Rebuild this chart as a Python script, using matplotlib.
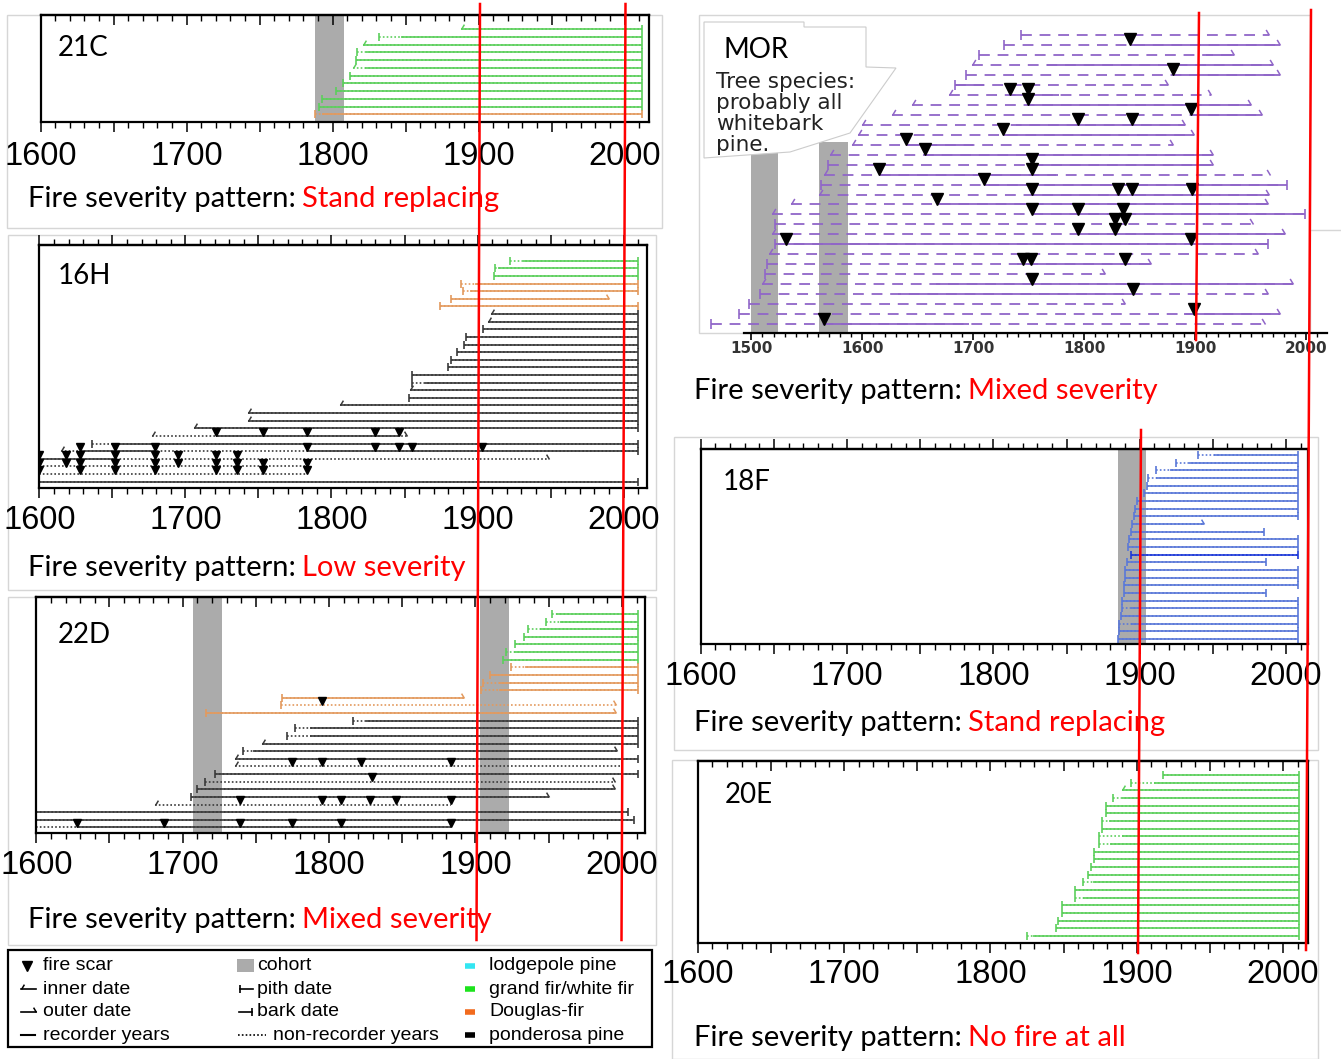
import matplotlib
matplotlib.use("Agg")
import matplotlib.pyplot as plt
from matplotlib.path import Path
from matplotlib.patches import Rectangle, Polygon
from matplotlib.ticker import MultipleLocator, FixedLocator, FuncFormatter, NullFormatter
from matplotlib.transforms import offset_copy

# ---------------------------------------------------------------- data
# rows are listed top to bottom; years of first ring, last ring,
# recorder (solid) spans, species code, start kind (p=pith, i=inner, n=none)
# and end kind (b=bark, o=outer, n=none); scars keyed by row index

C21_BEGIN = [1888, 1832, 1821, 1817, 1816, 1814, 1812, 1807, 1802, 1793, 1791, 1788]
C21_RECORD = [1888, 1847, 1821, 1823, 1816, 1822, 1812, 1807, 1802, 1793, 1791, 1793]
C21_END = [2012, 2012, 2012, 2012, 2012, 2012, 2012, 2012, 2012, 2012, 2012, 2012]
C21_SPECIES = "gggggggggggd"
C21_START = "ipippipppppp"
C21_STOP = "bbbbbbbbbbbb"
C21_COHORT = [(1788, 1808)]

H16_BEGIN = [1922, 1912, 1911, 1889, 1890, 1882, 1874, 1909, 1907, 1904, 1892, 1891,
             1886, 1882, 1880, 1855, 1855, 1854, 1853, 1806, 1743, 1743, 1706, 1677,
             1636, 1615, 1600, 1600, 1600, 1600]
H16_END = [2010, 2010, 2010, 2010, 2010, 1990, 2010, 2010, 2010, 2010, 2010, 2010,
           2010, 2010, 2010, 2010, 2010, 2010, 2010, 2010, 2010, 2010, 2010, 1852,
           2010, 2010, 1949, 1783, 1783, 2010]
H16_RECORD = [[(1931, 2010)], [(1914, 2010)], [(1911, 2010)], [(1898, 2010)],
              [(1895, 2010)], [(1882, 1990)], [(1874, 2010)], [(1909, 2010)],
              [(1907, 2010)], [(1904, 2010)], [(1892, 2010)], [(1891, 2010)],
              [(1886, 2010)], [(1882, 2010)], [(1880, 2010)], [(1855, 2010)],
              [(1864, 2010)], [(1854, 2010)], [(1853, 2010)], [(1806, 2010)],
              [(1743, 2010)], [(1743, 2010)], [(1706, 2010)], [(1721, 1846)],
              [(1650, 2010)], [(1628, 1679), (1783, 2010)], [(1600, 1652)], [], [],
              [(1600, 2010)]]
H16_SPECIES = "gggddddppppppppppppppppppppppp"
H16_START = "pppppppiippppppppipiiiiipinnnn"
H16_STOP = "bbbbbobbbbbbbbbbbbbbbbbobbonnb"
H16_SCARS = {
    23: [1721, 1753, 1783, 1830, 1846],
    25: [1628, 1652, 1679, 1783, 1830, 1846, 1855, 1903],
    26: [1600, 1618, 1628, 1652, 1679, 1695, 1721, 1735],
    27: [1600, 1618, 1628, 1652, 1679, 1695, 1721, 1735, 1753, 1783],
    28: [1600, 1628, 1652, 1679, 1721, 1735, 1753, 1783],
}

D22_BEGIN = [1952, 1948, 1936, 1933, 1927, 1921, 1919, 1924, 1910, 1905, 1904, 1768,
             1767, 1716, 1816, 1777, 1771, 1754, 1741, 1736, 1736, 1722, 1715, 1710,
             1706, 1681, 1600, 1600, 1600]
D22_END = [2011, 2011, 2011, 2011, 2011, 2011, 2011, 2011, 2011, 2011, 2011, 1892,
           1996, 1996, 2011, 2011, 2011, 2011, 1997, 2011, 1999, 2011, 1995, 1995,
           1950, 1883, 2004, 2008, 1883]
D22_RECORD = [[(1955, 2011)], [(1958, 2011)], [(1944, 2011)], [(1933, 2011)],
              [(1927, 2011)], [(1926, 2011)], [(1919, 2011)], [(1934, 2011)],
              [(1910, 2011)], [(1916, 2011)], [(1916, 2011)], [(1768, 1892)], [],
              [(1716, 1996)], [(1825, 2011)], [(1787, 2011)], [(1787, 2011)],
              [(1754, 2011)], [(1748, 1997)], [(1736, 2011)], [], [(1722, 2011)], [],
              [(1710, 1995)], [(1706, 1950)], [], [(1600, 2004)], [(1600, 2008)],
              [(1628, 1883)]]
D22_SPECIES = "gggggggdddddddppppppppppppppp"
D22_START = "pppppppppppppppppipiippppinnn"
D22_STOP = "bbbbbbbbbbbooobbbbobnbooonbbn"
D22_SCARS = {
    12: [1795],
    20: [1775, 1795, 1822, 1883],
    22: [1829],
    25: [1739, 1795, 1808, 1828, 1846, 1883],
    28: [1628, 1687, 1739, 1775, 1808, 1883],
}
D22_COHORT = [(1707, 1727), (1903, 1923)]

F18_BEGIN = [1940, 1925, 1911, 1906, 1905, 1903, 1898, 1897, 1896, 1895, 1894, 1893,
             1892, 1894, 1891, 1890, 1890, 1889, 1889, 1888, 1888, 1887, 1886, 1886, 1885]
F18_RECORD = [1951, 1934, 1921, 1911, 1905, 1903, 1898, 1897, 1896, 1895, 1894, 1893,
              1892, 1894, 1891, 1890, 1890, 1889, 1889, 1888, 1894, 1887, 1894, 1886, 1885]
F18_END = [2008, 2008, 2008, 2008, 2008, 2008, 2008, 2008, 2008, 1944, 1985, 2008,
           2008, 2008, 1986, 2008, 2008, 2008, 1986, 2008, 2008, 2008, 2008, 2008, 2008]
F18_SPECIES = "bbbbbbbbbbbbbBbbbbbbbbbbb"
F18_START = "ppppppppppppppppppppppppp"
F18_STOP = "bbbbbbbbbobbbbbbbbbbbbbbb"
F18_COHORT = [(1885, 1904)]

E20_BEGIN = [1918, 1896, 1890, 1884, 1879, 1879, 1876, 1876, 1874, 1874, 1871, 1871,
             1869, 1867, 1863, 1858, 1858, 1849, 1849, 1846, 1845, 1825]
E20_RECORD = [1918, 1912, 1890, 1890, 1879, 1879, 1881, 1876, 1890, 1882, 1871, 1871,
              1869, 1867, 1870, 1858, 1863, 1849, 1849, 1846, 1845, 1829]
E20_END = [2011, 2011, 2011, 2011, 2011, 2011, 2011, 2011, 2011, 2011, 2011, 2011,
           2011, 2011, 2011, 2011, 2011, 2011, 2011, 2011, 2011, 2011]
E20_SPECIES = "gggggggggggggggggggggg"
E20_START = "ppippppppppppppppppppp"
E20_STOP = "bbbbbbbbbbbbbbbbbbbbbb"

MOR_BEGIN = [1743, 1728, 1705, 1699, 1693, 1683, 1678, 1645, 1627, 1600, 1596, 1591,
             1571, 1569, 1565, 1563, 1561, 1536, 1519, 1521, 1519, 1521, 1516, 1514,
             1512, 1510, 1508, 1498, 1489, 1464]
MOR_END = [1966, 1976, 1935, 1970, 1976, 1875, 1914, 1950, 1960, 1891, 1899, 1880,
           1916, 1916, 1967, 1983, 1966, 1965, 1999, 1952, 1981, 1965, 1956, 1860,
           1819, 1988, 1965, 1837, 1976, 1963]
MOR_RECORD = [[], [(1841, 1976)], [(1910, 1935)], [(1766, 1970)], [(1880, 1976)],
              [(1683, 1710)], [(1733, 1777)], [(1749, 1950)], [(1896, 1960)],
              [(1738, 1891)], [(1727, 1899)], [(1639, 1700)], [(1656, 1916)],
              [(1753, 1916)], [(1615, 1774)], [(1710, 1983)], [(1753, 1966)],
              [(1667, 1965)], [(1753, 1999)], [(1828, 1837)], [(1794, 1981)],
              [(1521, 1965)], [], [(1739, 1860)], [], [(1666, 1988)], [(1632, 1844)],
              [], [(1890, 1976)], [(1566, 1696)]]
MOR_SPECIES = "wwwwwwwwwwwwwwwwwwwwwwwwwwwwww"
MOR_START = "pppippiiiiiiipipiiipipippipppp"
MOR_STOP = "ooooooooooooooobooboobooooooooo"[:15] + "booboob" + "oooooooo"
MOR_SCARS = {
    1: [1841], 4: [1880], 6: [1733, 1749], 7: [1749], 8: [1896], 9: [1794, 1843],
    10: [1727], 11: [1639], 12: [1656], 13: [1753], 14: [1615, 1753], 15: [1710],
    16: [1753, 1830, 1843, 1897], 17: [1667], 18: [1753, 1794, 1835],
    19: [1828, 1837], 20: [1794, 1828], 21: [1531, 1896], 23: [1745, 1752, 1837],
    25: [1753], 26: [1844], 28: [1899], 29: [1565],
}
MOR_COHORT = [(1500, 1524), (1561, 1587)]
MOR_NOTE = ["Tree species:", "probably all", "whitebark", "pine."]

LEGEND_MARKS = ["fire scar", "inner date", "outer date", "recorder years"]
LEGEND_DATES = ["cohort", "pith date", "bark date", "non-recorder years"]
LEGEND_SPECIES = ["lodgepole pine", "grand fir/white fir", "Douglas-fir", "ponderosa pine"]
LEGEND_SWATCH = ["#33e6f2", "#1de31d", "#f26b1d", "#000000"]

COLORS = {"g": "#5ccf5c", "d": "#e39a5e", "p": "#3a3a3a",
          "b": "#5a78d8", "B": "#1e3ad8", "w": "#9066c8"}
COHORT_COLOR = "#ababab"

# ---------------------------------------------------------------- figure
W, H = 1341, 1059
fig = plt.figure(figsize=(W / 100, H / 100), dpi=100)

INNER = Path([(0, 0), (0.6, 1)], [Path.MOVETO, Path.LINETO])
OUTER = Path([(0, 0), (-0.6, 1)], [Path.MOVETO, Path.LINETO])


def pixel_axes(left, top, right, bottom, zorder=1):
    return fig.add_axes([left / W, 1 - bottom / H, (right - left) / W, (bottom - top) / H],
                        zorder=zorder)


def overlay(zorder):
    ax = fig.add_axes([0, 0, 1, 1], zorder=zorder)
    ax.set_xlim(0, W)
    ax.set_ylim(H, 0)
    ax.axis("off")
    return ax


def draw_rows(ax, begin, end, record, species, start, stop, scars, nonrec,
              lw=1.2, tick_ms=6, hook_ms=7, scar_ms=6):
    scar_tf = offset_copy(ax.transData, fig=fig, y=scar_ms / 2, units="points")
    for i in range(len(begin)):
        col = COLORS[species[i]]
        ax.plot([begin[i], end[i]], [i, i], color=col, lw=lw, ls=nonrec)
        for a, b in record[i]:
            ax.plot([a, b], [i, i], color=col, lw=lw, solid_capstyle="butt")
        for year, kind, hook in ((begin[i], start[i], INNER), (end[i], stop[i], OUTER)):
            if kind in "pb":
                ax.plot(year, i, marker="|", ms=tick_ms, mew=1.2, color=col)
            elif kind in "io":
                ax.plot(year, i, marker=hook, ms=hook_ms, mew=1.1, mfc="none", color=col)
        if i in scars:
            ax.plot(scars[i], [i] * len(scars[i]), ls="none", marker="v", ms=scar_ms,
                    color="black", transform=scar_tf)


def century_label(v, pos):
    return f"{v:.0f}" if round(v) % 100 == 0 else ""


def year_panel(box, right_year, first_row, row_step, top_dir, pad=4.5):
    left, top, right, bottom = box
    ax = pixel_axes(left, top, right, bottom)
    ax.set_xlim(1600, right_year)
    ax.set_ylim((bottom - first_row) / row_step, (top - first_row) / row_step)
    ax.set_yticks([])
    for s in ax.spines.values():
        s.set_linewidth(1.6)
    ax.xaxis.set_major_locator(MultipleLocator(50))
    ax.xaxis.set_minor_locator(MultipleLocator(10))
    ax.xaxis.set_major_formatter(FuncFormatter(century_label))
    ax.tick_params(axis="x", which="major", length=7.5, width=1.1, direction="out",
                   pad=pad, labelsize=23.5, labelfontfamily="Liberation Sans")
    ax.tick_params(axis="x", which="minor", length=4.5, width=1.0, direction="out")
    sec = ax.secondary_xaxis("top")
    sec.xaxis.set_major_locator(MultipleLocator(50))
    sec.xaxis.set_minor_locator(MultipleLocator(10))
    sec.xaxis.set_major_formatter(NullFormatter())
    sec.tick_params(which="major", length=7.5, width=1.1, direction=top_dir)
    sec.tick_params(which="minor", length=4.5, width=1.0, direction=top_dir)
    sec.spines["top"].set_linewidth(1.6)
    return ax


def simple_record(record, end):
    return [[(a, b)] for a, b in zip(record, end)]


DOTTED = (0, (1, 1.3))
DASHED = (0, (6, 4.3))

# light frames left over from the composed screenshots
bg = overlay(0)
for x0, y0, x1, y1 in [(7, 15, 662, 228), (8, 235, 656, 590), (8, 597, 656, 945),
                       (699, 15, 1310, 333), (674, 437, 1318, 750), (672, 760, 1318, 1059)]:
    bg.add_patch(Rectangle((x0, y0), x1 - x0, y1 - y0, fill=False, ec="#d6d6d6", lw=1))
bg.plot([1310, 1341], [230, 230], color="#d6d6d6", lw=1)

# 21C
ax = year_panel((40.6, 15, 649, 121.7), 2016.7, 29.3, 7.73, "in", pad=6.5)
for a, b in C21_COHORT:
    ax.axvspan(a, b, color=COHORT_COLOR, lw=0, zorder=0)
draw_rows(ax, C21_BEGIN, C21_END, simple_record(C21_RECORD, C21_END), C21_SPECIES,
          C21_START, C21_STOP, {}, DOTTED)

# 16H
ax = year_panel((39.3, 245, 647, 488.3), 2016.0, 260.7, 7.62, "out")
draw_rows(ax, H16_BEGIN, H16_END, H16_RECORD, H16_SPECIES, H16_START, H16_STOP,
          H16_SCARS, DOTTED, tick_ms=5.5, scar_ms=5.5)

# 22D
ax = year_panel((36.3, 596.7, 645, 833.3), 2015.8, 614, 7.62, "in")
for a, b in D22_COHORT:
    ax.axvspan(a, b, color=COHORT_COLOR, lw=0, zorder=0)
draw_rows(ax, D22_BEGIN, D22_END, D22_RECORD, D22_SPECIES, D22_START, D22_STOP,
          D22_SCARS, DOTTED, tick_ms=5.5, scar_ms=6)

# 18F
ax = year_panel((700.8, 449, 1308.4, 644.3), 2015.3, 455, 7.67, "out")
for a, b in F18_COHORT:
    ax.axvspan(a, b, color=COHORT_COLOR, lw=0, zorder=0)
draw_rows(ax, F18_BEGIN, F18_END, simple_record(F18_RECORD, F18_END), F18_SPECIES,
          F18_START, F18_STOP, {}, DOTTED, tick_ms=5.5)

# 20E
ax = year_panel((697.8, 761, 1307.6, 942.7), 2016.8, 775, 7.67, "in")
draw_rows(ax, E20_BEGIN, E20_END, simple_record(E20_RECORD, E20_END), E20_SPECIES,
          E20_START, E20_STOP, {}, DOTTED, tick_ms=5.5)

# MOR
mor = pixel_axes(699, 15, 1327, 333)
mor.set_facecolor("none")
mor.set_xlim(1452.8, 2018.6)
mor.set_ylim((333 - 35) / 9.97, (15 - 35) / 9.97)
mor.set_yticks([])
for side in ("top", "right", "left"):
    mor.spines[side].set_visible(False)
mor.spines["bottom"].set_bounds(1493, 2018.6)
mor.spines["bottom"].set_linewidth(1.6)
mor.xaxis.set_major_locator(MultipleLocator(100))
mor.xaxis.set_minor_locator(FixedLocator(range(1500, 2020, 10)))
mor.tick_params(axis="x", which="major", length=5, width=1.2, pad=1, labelsize=11,
                labelcolor="#333333", labelfontfamily="DejaVu Sans")
mor.tick_params(axis="x", which="minor", length=3, width=1.0)
for lab in mor.get_xticklabels():
    lab.set_fontweight("bold")
for a, b in MOR_COHORT:
    mor.axvspan(a, b, ymax=0.6, color=COHORT_COLOR, lw=0, zorder=0)
draw_rows(mor, MOR_BEGIN, MOR_END, MOR_RECORD, MOR_SPECIES, MOR_START, MOR_STOP,
          MOR_SCARS, DASHED, lw=1.3, tick_ms=7, hook_ms=8, scar_ms=8)

# ---------------------------------------------------------------- texts on top
ov = overlay(5)

ov.add_patch(Polygon([(704, 22), (804, 22), (804, 27), (866, 27), (866, 67), (896, 68),
                      (850, 133), (790, 152), (704, 158)],
                     closed=True, fc="white", ec="#cccccc", lw=0.8))
ov.text(724, 50, "MOR", fontsize=20, family="Lato", va="center")
for k, line in enumerate(MOR_NOTE):
    ov.text(716, 88 + 21 * k, line, fontsize=15.5, family="DejaVu Sans",
            color="#222222", va="baseline")

for x, y, name in [(58, 48, "21C"), (58, 276, "16H"), (58, 635, "22D"),
                   (723, 482, "18F"), (725, 795, "20E")]:
    ov.text(x, y, name, fontsize=20, family="Lato", va="center")


def severity(x, y, pattern):
    t = ov.text(x, y, "Fire severity pattern:", fontsize=21, family="Lato",
                va="baseline")
    ov.annotate(pattern, xy=(1, 0), xycoords=t, xytext=(4.5, 0),
                textcoords="offset points", fontsize=21, family="Lato",
                color="red", va="bottom")


severity(28, 207, "Stand replacing")
severity(28, 576, "Low severity")
severity(28, 928, "Mixed severity")
severity(694, 399, "Mixed severity")
severity(694, 731, "Stand replacing")
severity(694, 1046, "No fire at all")

# legend
ov.add_patch(Rectangle((8, 950), 644, 97, fill=False, ec="black", lw=1.6))
rows_y = [966, 989, 1012, 1035]
lfont = dict(fontsize=14, family="Liberation Sans", va="center")
for y, label in zip(rows_y, LEGEND_MARKS):
    ov.text(43, y, label, **lfont)
ov.plot(27, rows_y[0], marker="v", ms=7, color="black")
ov.plot([21, 36], [rows_y[1]] * 2, color="black", lw=1.2)
ov.plot(21, rows_y[1], marker=INNER, ms=7, mew=1.1, mfc="none", color="black")
ov.plot([21, 36], [rows_y[2]] * 2, color="black", lw=1.2)
ov.plot(36, rows_y[2], marker=OUTER, ms=7, mew=1.1, mfc="none", color="black")
ov.plot([21, 35], [rows_y[3]] * 2, color="black", lw=1.5)

for y, label in zip(rows_y, LEGEND_DATES):
    ov.text(273 if label.startswith("non") else 257, y, label, **lfont)
ov.add_patch(Rectangle((237, 959), 17, 13, color=COHORT_COLOR, lw=0))
ov.plot([240, 253], [rows_y[1]] * 2, color="black", lw=1.2)
ov.plot(240, rows_y[1], marker="|", ms=6, mew=1.2, color="black")
ov.plot([239, 252], [rows_y[2]] * 2, color="black", lw=1.2)
ov.plot(252, rows_y[2], marker="|", ms=6, mew=1.2, color="black")
ov.plot([238, 266], [rows_y[3]] * 2, color="black", lw=1.2, ls=DOTTED)

for y, label, col in zip(rows_y, LEGEND_SPECIES, LEGEND_SWATCH):
    ov.plot([465, 475], [y, y], color=col, lw=4, solid_capstyle="butt")
    ov.text(489, y, label, **lfont)

# red reference lines
for (x0, y0), (x1, y1) in [((480, 4), (476.5, 940)), ((625.5, 4), (621.5, 940)),
                           ((1199, 13), (1196, 340)), ((1311, 10), (1306, 950)),
                           ((1141, 430), (1138, 953))]:
    ov.plot([x0, x1], [y0, y1], color="#ff0000", lw=1.8)

fig.savefig("out.png", dpi=100)
